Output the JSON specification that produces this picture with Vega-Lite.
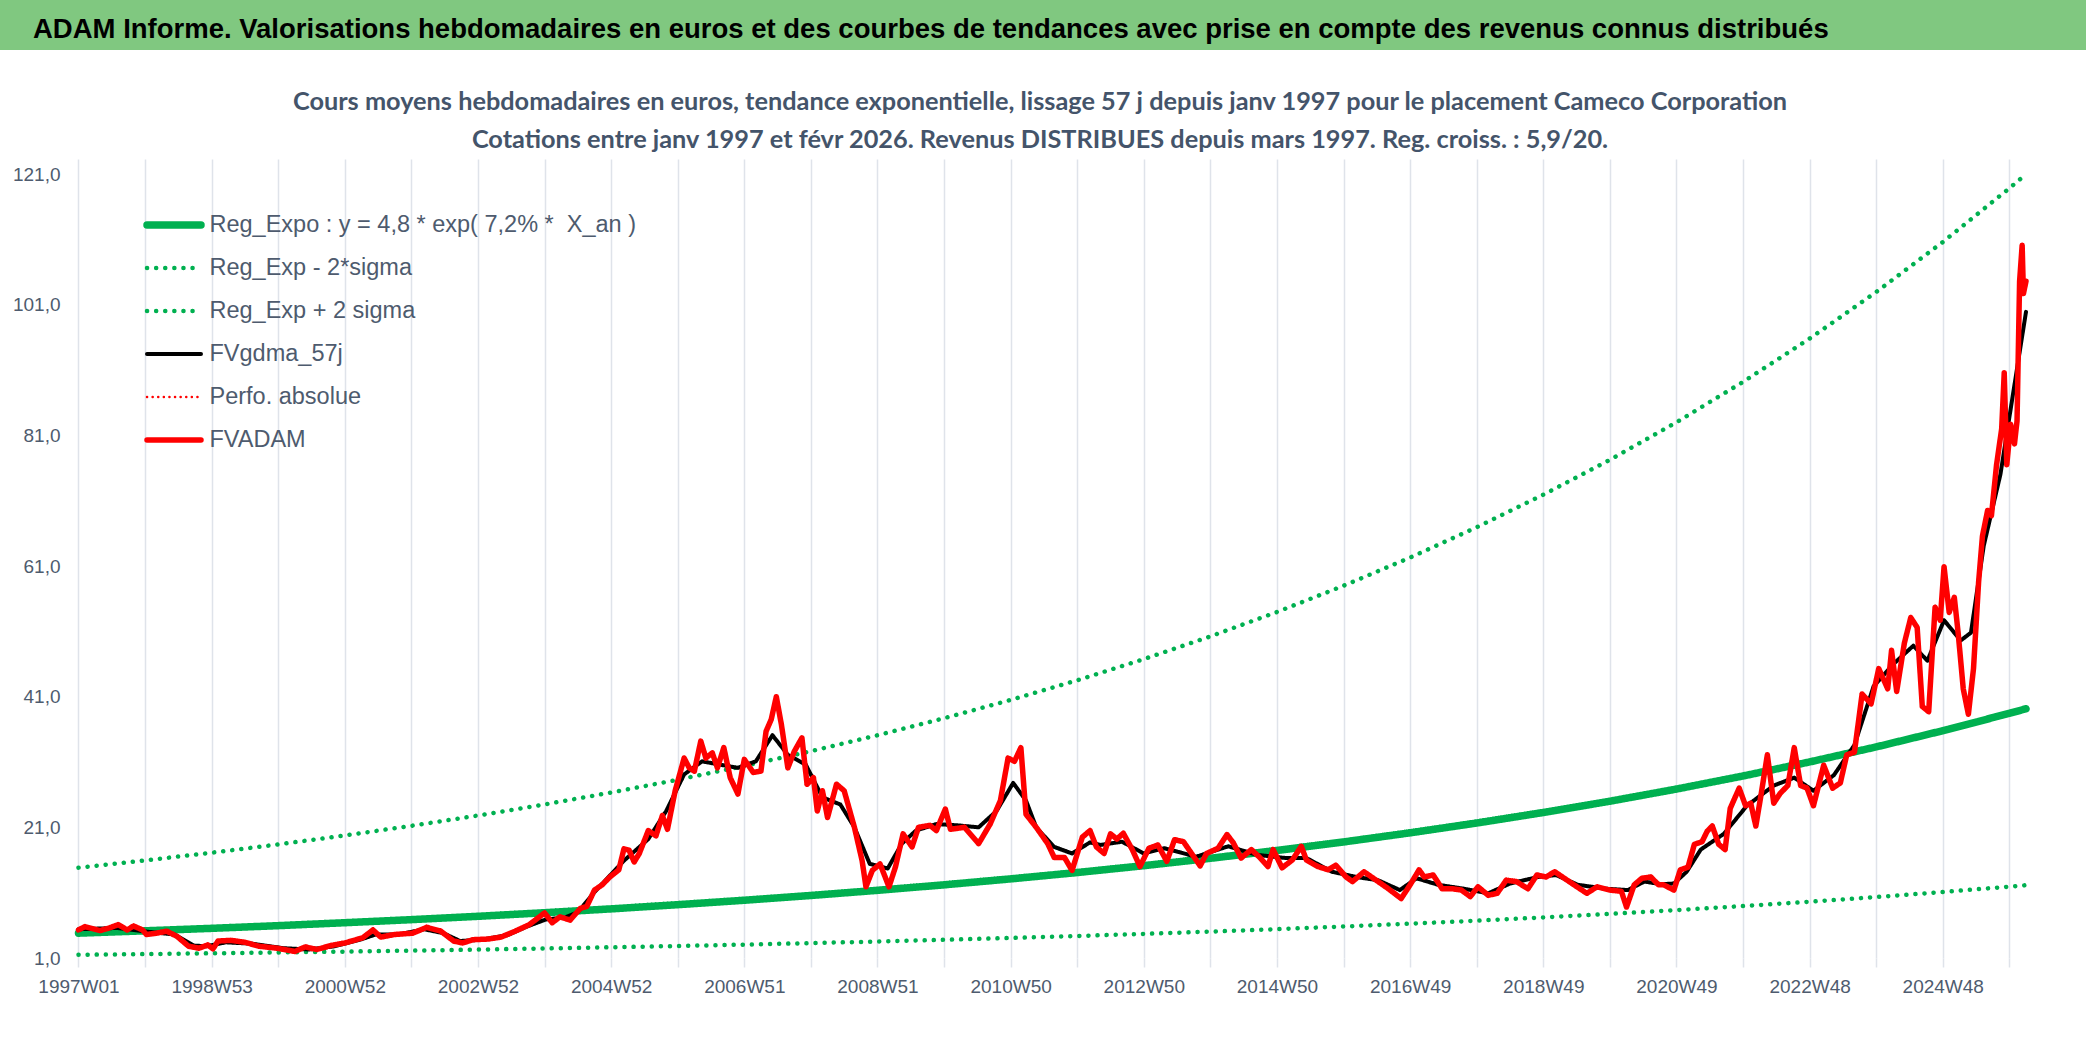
{
  "$schema": "https://vega.github.io/schema/vega-lite/v6.json",
  "padding": 0,
  "background": "white",
  "spacing": 39,
  "config": {"view": {"stroke": null}},
  "datasets": {
    "grid": [{"g": 1}, {"g": 21}, {"g": 41}, {"g": 61}, {"g": 81}, {"g": 101}, {"g": 121}],
    "trend": [
      {"w":0,"Reg_Expo":4.80,"Reg_Exp - 2*sigma":1.49,"Reg_Exp + 2 sigma":14.83},
      {"w":52,"Reg_Expo":5.16,"Reg_Exp - 2*sigma":1.60,"Reg_Exp + 2 sigma":15.94},
      {"w":104,"Reg_Expo":5.54,"Reg_Exp - 2*sigma":1.72,"Reg_Exp + 2 sigma":17.12},
      {"w":156,"Reg_Expo":5.95,"Reg_Exp - 2*sigma":1.85,"Reg_Exp + 2 sigma":18.39},
      {"w":208,"Reg_Expo":6.40,"Reg_Exp - 2*sigma":1.98,"Reg_Exp + 2 sigma":19.76},
      {"w":260,"Reg_Expo":6.87,"Reg_Exp - 2*sigma":2.13,"Reg_Exp + 2 sigma":21.23},
      {"w":312,"Reg_Expo":7.38,"Reg_Exp - 2*sigma":2.29,"Reg_Exp + 2 sigma":22.81},
      {"w":364,"Reg_Expo":7.93,"Reg_Exp - 2*sigma":2.46,"Reg_Exp + 2 sigma":24.51},
      {"w":416,"Reg_Expo":8.52,"Reg_Exp - 2*sigma":2.64,"Reg_Exp + 2 sigma":26.33},
      {"w":468,"Reg_Expo":9.16,"Reg_Exp - 2*sigma":2.84,"Reg_Exp + 2 sigma":28.29},
      {"w":520,"Reg_Expo":9.84,"Reg_Exp - 2*sigma":3.05,"Reg_Exp + 2 sigma":30.40},
      {"w":572,"Reg_Expo":10.57,"Reg_Exp - 2*sigma":3.28,"Reg_Exp + 2 sigma":32.66},
      {"w":624,"Reg_Expo":11.36,"Reg_Exp - 2*sigma":3.52,"Reg_Exp + 2 sigma":35.09},
      {"w":676,"Reg_Expo":12.20,"Reg_Exp - 2*sigma":3.78,"Reg_Exp + 2 sigma":37.70},
      {"w":728,"Reg_Expo":13.11,"Reg_Exp - 2*sigma":4.06,"Reg_Exp + 2 sigma":40.50},
      {"w":780,"Reg_Expo":14.08,"Reg_Exp - 2*sigma":4.37,"Reg_Exp + 2 sigma":43.51},
      {"w":832,"Reg_Expo":15.13,"Reg_Exp - 2*sigma":4.69,"Reg_Exp + 2 sigma":46.75},
      {"w":884,"Reg_Expo":16.26,"Reg_Exp - 2*sigma":5.04,"Reg_Exp + 2 sigma":50.23},
      {"w":936,"Reg_Expo":17.46,"Reg_Exp - 2*sigma":5.41,"Reg_Exp + 2 sigma":53.96},
      {"w":988,"Reg_Expo":18.76,"Reg_Exp - 2*sigma":5.82,"Reg_Exp + 2 sigma":57.98},
      {"w":1040,"Reg_Expo":20.16,"Reg_Exp - 2*sigma":6.25,"Reg_Exp + 2 sigma":62.29},
      {"w":1092,"Reg_Expo":21.66,"Reg_Exp - 2*sigma":6.71,"Reg_Exp + 2 sigma":66.93},
      {"w":1144,"Reg_Expo":23.27,"Reg_Exp - 2*sigma":7.21,"Reg_Exp + 2 sigma":71.91},
      {"w":1196,"Reg_Expo":25.00,"Reg_Exp - 2*sigma":7.75,"Reg_Exp + 2 sigma":77.25},
      {"w":1248,"Reg_Expo":26.86,"Reg_Exp - 2*sigma":8.33,"Reg_Exp + 2 sigma":83.00},
      {"w":1300,"Reg_Expo":28.86,"Reg_Exp - 2*sigma":8.95,"Reg_Exp + 2 sigma":89.18},
      {"w":1352,"Reg_Expo":31.01,"Reg_Exp - 2*sigma":9.61,"Reg_Exp + 2 sigma":95.81},
      {"w":1404,"Reg_Expo":33.31,"Reg_Exp - 2*sigma":10.33,"Reg_Exp + 2 sigma":102.94},
      {"w":1456,"Reg_Expo":35.79,"Reg_Exp - 2*sigma":11.10,"Reg_Exp + 2 sigma":110.59},
      {"w":1508,"Reg_Expo":38.45,"Reg_Exp - 2*sigma":11.92,"Reg_Exp + 2 sigma":118.82},
      {"w":1521,"Reg_Expo":39.15,"Reg_Exp - 2*sigma":12.14,"Reg_Exp + 2 sigma":120.97}
    ],
    "gdma": [
      {"w":0,"FVgdma_57j":5.4},{"w":30,"FVgdma_57j":5.6},{"w":55,"FVgdma_57j":5.0},{"w":75,"FVgdma_57j":4.6},
      {"w":90,"FVgdma_57j":2.9},{"w":100,"FVgdma_57j":2.8},{"w":115,"FVgdma_57j":3.4},{"w":135,"FVgdma_57j":3.2},
      {"w":160,"FVgdma_57j":2.5},{"w":180,"FVgdma_57j":2.3},{"w":200,"FVgdma_57j":2.8},{"w":220,"FVgdma_57j":3.8},
      {"w":232,"FVgdma_57j":4.6},{"w":250,"FVgdma_57j":4.6},{"w":270,"FVgdma_57j":5.4},{"w":285,"FVgdma_57j":4.8},
      {"w":298,"FVgdma_57j":3.6},{"w":315,"FVgdma_57j":3.8},{"w":335,"FVgdma_57j":4.5},{"w":350,"FVgdma_57j":5.8},
      {"w":365,"FVgdma_57j":6.9},{"w":380,"FVgdma_57j":7.2},{"w":390,"FVgdma_57j":8.0},{"w":403,"FVgdma_57j":11.1},
      {"w":426,"FVgdma_57j":15.9},{"w":445,"FVgdma_57j":19.2},{"w":459,"FVgdma_57j":23.5},{"w":473,"FVgdma_57j":29.1},
      {"w":487,"FVgdma_57j":31.1},{"w":501,"FVgdma_57j":30.6},{"w":515,"FVgdma_57j":30.1},{"w":529,"FVgdma_57j":31.1},
      {"w":542,"FVgdma_57j":35.1},{"w":554,"FVgdma_57j":32.1},{"w":568,"FVgdma_57j":30.6},{"w":581,"FVgdma_57j":25.6},
      {"w":595,"FVgdma_57j":24.5},{"w":606,"FVgdma_57j":21.0},{"w":618,"FVgdma_57j":15.4},{"w":632,"FVgdma_57j":14.7},
      {"w":643,"FVgdma_57j":18.5},{"w":654,"FVgdma_57j":20.5},{"w":670,"FVgdma_57j":21.5},{"w":687,"FVgdma_57j":21.3},
      {"w":703,"FVgdma_57j":21.0},{"w":717,"FVgdma_57j":23.5},{"w":730,"FVgdma_57j":27.8},{"w":740,"FVgdma_57j":25.1},
      {"w":748,"FVgdma_57j":21.0},{"w":762,"FVgdma_57j":18.0},{"w":776,"FVgdma_57j":17.0},{"w":790,"FVgdma_57j":18.7},
      {"w":798,"FVgdma_57j":18.3},{"w":815,"FVgdma_57j":18.8},{"w":832,"FVgdma_57j":17.0},{"w":848,"FVgdma_57j":17.8},
      {"w":873,"FVgdma_57j":16.5},{"w":898,"FVgdma_57j":18.1},{"w":920,"FVgdma_57j":16.8},{"w":943,"FVgdma_57j":16.3},
      {"w":959,"FVgdma_57j":16.3},{"w":979,"FVgdma_57j":14.2},{"w":998,"FVgdma_57j":13.4},{"w":1015,"FVgdma_57j":12.9},
      {"w":1032,"FVgdma_57j":11.4},{"w":1045,"FVgdma_57j":13.2},{"w":1062,"FVgdma_57j":12.2},{"w":1082,"FVgdma_57j":11.6},
      {"w":1101,"FVgdma_57j":10.9},{"w":1118,"FVgdma_57j":12.4},{"w":1140,"FVgdma_57j":13.4},{"w":1154,"FVgdma_57j":13.7},
      {"w":1171,"FVgdma_57j":12.2},{"w":1193,"FVgdma_57j":11.6},{"w":1210,"FVgdma_57j":11.4},{"w":1223,"FVgdma_57j":12.7},
      {"w":1236,"FVgdma_57j":12.3},{"w":1246,"FVgdma_57j":12.4},{"w":1256,"FVgdma_57j":14.2},{"w":1267,"FVgdma_57j":17.6},
      {"w":1285,"FVgdma_57j":20.0},{"w":1303,"FVgdma_57j":24.3},{"w":1324,"FVgdma_57j":27.4},{"w":1340,"FVgdma_57j":28.6},
      {"w":1355,"FVgdma_57j":26.6},{"w":1371,"FVgdma_57j":29.0},{"w":1387,"FVgdma_57j":33.6},{"w":1402,"FVgdma_57j":42.6},
      {"w":1418,"FVgdma_57j":46.1},{"w":1433,"FVgdma_57j":48.8},{"w":1444,"FVgdma_57j":46.5},{"w":1457,"FVgdma_57j":52.7},
      {"w":1470,"FVgdma_57j":49.6},{"w":1478,"FVgdma_57j":50.8},{"w":1488,"FVgdma_57j":64.1},{"w":1501,"FVgdma_57j":75.0},
      {"w":1511,"FVgdma_57j":87.5},{"w":1521,"FVgdma_57j":99.9}
    ],
    "adam": [
      {"w":0,"FVADAM":5.3},{"w":5,"FVADAM":5.8},{"w":11,"FVADAM":5.5},{"w":17,"FVADAM":5.2},{"w":24,"FVADAM":5.6},
      {"w":31,"FVADAM":6.1},{"w":38,"FVADAM":5.3},{"w":43,"FVADAM":5.9},{"w":50,"FVADAM":5.3},{"w":53,"FVADAM":4.6},
      {"w":61,"FVADAM":4.8},{"w":69,"FVADAM":5.1},{"w":77,"FVADAM":4.3},{"w":86,"FVADAM":2.8},{"w":94,"FVADAM":2.5},
      {"w":101,"FVADAM":3.0},{"w":105,"FVADAM":2.4},{"w":109,"FVADAM":3.6},{"w":119,"FVADAM":3.7},{"w":130,"FVADAM":3.4},
      {"w":141,"FVADAM":2.8},{"w":155,"FVADAM":2.5},{"w":169,"FVADAM":2.0},{"w":177,"FVADAM":2.7},{"w":186,"FVADAM":2.3},
      {"w":197,"FVADAM":2.9},{"w":208,"FVADAM":3.3},{"w":222,"FVADAM":4.1},{"w":230,"FVADAM":5.3},{"w":236,"FVADAM":4.2},
      {"w":247,"FVADAM":4.6},{"w":261,"FVADAM":4.8},{"w":272,"FVADAM":5.7},{"w":283,"FVADAM":5.1},{"w":293,"FVADAM":3.6},
      {"w":300,"FVADAM":3.3},{"w":308,"FVADAM":3.8},{"w":320,"FVADAM":3.9},{"w":330,"FVADAM":4.2},{"w":341,"FVADAM":5.1},
      {"w":352,"FVADAM":6.1},{"w":364,"FVADAM":7.9},{"w":370,"FVADAM":6.4},{"w":376,"FVADAM":7.3},{"w":384,"FVADAM":6.8},
      {"w":392,"FVADAM":8.6},{"w":397,"FVADAM":8.9},{"w":403,"FVADAM":11.4},{"w":409,"FVADAM":12.2},{"w":415,"FVADAM":13.4},
      {"w":422,"FVADAM":14.5},{"w":426,"FVADAM":17.7},{"w":430,"FVADAM":17.5},{"w":434,"FVADAM":15.7},{"w":438,"FVADAM":17.0},
      {"w":445,"FVADAM":20.5},{"w":451,"FVADAM":19.7},{"w":456,"FVADAM":22.8},{"w":460,"FVADAM":20.7},{"w":466,"FVADAM":26.6},
      {"w":473,"FVADAM":31.6},{"w":477,"FVADAM":30.1},{"w":481,"FVADAM":29.6},{"w":486,"FVADAM":34.2},{"w":490,"FVADAM":31.6},
      {"w":495,"FVADAM":32.4},{"w":499,"FVADAM":30.1},{"w":504,"FVADAM":33.2},{"w":509,"FVADAM":28.6},{"w":515,"FVADAM":26.1},
      {"w":520,"FVADAM":31.4},{"w":527,"FVADAM":29.4},{"w":533,"FVADAM":29.6},{"w":537,"FVADAM":35.7},{"w":541,"FVADAM":37.5},
      {"w":545,"FVADAM":41.0},{"w":549,"FVADAM":36.7},{"w":554,"FVADAM":30.1},{"w":559,"FVADAM":32.6},{"w":565,"FVADAM":34.7},
      {"w":569,"FVADAM":27.6},{"w":574,"FVADAM":28.6},{"w":577,"FVADAM":23.5},{"w":581,"FVADAM":26.6},{"w":585,"FVADAM":22.5},
      {"w":592,"FVADAM":27.6},{"w":598,"FVADAM":26.6},{"w":606,"FVADAM":21.0},{"w":612,"FVADAM":15.9},{"w":615,"FVADAM":11.9},
      {"w":620,"FVADAM":14.4},{"w":626,"FVADAM":15.4},{"w":633,"FVADAM":11.9},{"w":638,"FVADAM":14.9},{"w":644,"FVADAM":20.0},
      {"w":651,"FVADAM":18.0},{"w":656,"FVADAM":21.0},{"w":665,"FVADAM":21.3},{"w":670,"FVADAM":20.5},{"w":677,"FVADAM":23.8},
      {"w":681,"FVADAM":20.7},{"w":692,"FVADAM":21.0},{"w":703,"FVADAM":18.5},{"w":712,"FVADAM":21.5},{"w":720,"FVADAM":25.1},
      {"w":726,"FVADAM":31.6},{"w":731,"FVADAM":31.1},{"w":736,"FVADAM":33.2},{"w":740,"FVADAM":23.0},{"w":748,"FVADAM":21.0},
      {"w":757,"FVADAM":18.5},{"w":762,"FVADAM":16.4},{"w":770,"FVADAM":16.4},{"w":776,"FVADAM":14.4},{"w":784,"FVADAM":19.5},
      {"w":790,"FVADAM":20.5},{"w":795,"FVADAM":18.0},{"w":801,"FVADAM":17.0},{"w":806,"FVADAM":20.0},{"w":811,"FVADAM":19.2},
      {"w":816,"FVADAM":20.1},{"w":823,"FVADAM":17.6},{"w":829,"FVADAM":15.0},{"w":836,"FVADAM":17.8},{"w":843,"FVADAM":18.3},
      {"w":850,"FVADAM":15.8},{"w":856,"FVADAM":19.1},{"w":863,"FVADAM":18.8},{"w":870,"FVADAM":16.8},{"w":876,"FVADAM":15.1},
      {"w":881,"FVADAM":17.0},{"w":890,"FVADAM":17.8},{"w":897,"FVADAM":19.9},{"w":902,"FVADAM":18.6},{"w":908,"FVADAM":16.3},
      {"w":916,"FVADAM":17.6},{"w":922,"FVADAM":16.5},{"w":929,"FVADAM":15.0},{"w":933,"FVADAM":17.6},{"w":940,"FVADAM":14.8},
      {"w":948,"FVADAM":16.0},{"w":955,"FVADAM":18.1},{"w":959,"FVADAM":16.0},{"w":968,"FVADAM":15.0},{"w":976,"FVADAM":14.5},
      {"w":982,"FVADAM":15.2},{"w":990,"FVADAM":13.4},{"w":995,"FVADAM":12.7},{"w":1004,"FVADAM":14.2},{"w":1015,"FVADAM":12.7},
      {"w":1023,"FVADAM":11.6},{"w":1033,"FVADAM":10.1},{"w":1040,"FVADAM":12.2},{"w":1047,"FVADAM":14.5},{"w":1051,"FVADAM":13.4},
      {"w":1058,"FVADAM":13.7},{"w":1065,"FVADAM":11.6},{"w":1073,"FVADAM":11.6},{"w":1080,"FVADAM":11.4},{"w":1087,"FVADAM":10.4},
      {"w":1093,"FVADAM":11.9},{"w":1101,"FVADAM":10.6},{"w":1108,"FVADAM":10.9},{"w":1115,"FVADAM":12.9},{"w":1123,"FVADAM":12.7},
      {"w":1132,"FVADAM":11.6},{"w":1139,"FVADAM":13.7},{"w":1146,"FVADAM":13.4},{"w":1153,"FVADAM":14.2},{"w":1159,"FVADAM":13.4},
      {"w":1168,"FVADAM":12.2},{"w":1178,"FVADAM":10.9},{"w":1186,"FVADAM":11.9},{"w":1196,"FVADAM":11.4},{"w":1205,"FVADAM":11.2},
      {"w":1209,"FVADAM":8.8},{"w":1215,"FVADAM":12.2},{"w":1221,"FVADAM":13.2},{"w":1228,"FVADAM":13.4},{"w":1234,"FVADAM":12.2},
      {"w":1238,"FVADAM":12.2},{"w":1246,"FVADAM":11.4},{"w":1251,"FVADAM":14.5},{"w":1257,"FVADAM":14.9},{"w":1262,"FVADAM":18.4},
      {"w":1268,"FVADAM":18.8},{"w":1272,"FVADAM":20.4},{"w":1276,"FVADAM":21.2},{"w":1281,"FVADAM":18.4},{"w":1286,"FVADAM":17.6},
      {"w":1290,"FVADAM":23.9},{"w":1297,"FVADAM":27.0},{"w":1302,"FVADAM":24.3},{"w":1306,"FVADAM":24.7},{"w":1310,"FVADAM":21.2},
      {"w":1314,"FVADAM":25.9},{"w":1319,"FVADAM":32.1},{"w":1324,"FVADAM":24.7},{"w":1329,"FVADAM":26.2},{"w":1335,"FVADAM":27.4},
      {"w":1340,"FVADAM":33.2},{"w":1345,"FVADAM":27.4},{"w":1350,"FVADAM":27.0},{"w":1355,"FVADAM":24.3},{"w":1363,"FVADAM":30.5},
      {"w":1370,"FVADAM":27.0},{"w":1376,"FVADAM":27.8},{"w":1381,"FVADAM":32.1},{"w":1387,"FVADAM":32.5},{"w":1393,"FVADAM":41.4},
      {"w":1400,"FVADAM":39.9},{"w":1406,"FVADAM":45.3},{"w":1413,"FVADAM":42.2},{"w":1416,"FVADAM":48.1},{"w":1420,"FVADAM":41.8},
      {"w":1426,"FVADAM":49.2},{"w":1431,"FVADAM":53.1},{"w":1436,"FVADAM":51.6},{"w":1440,"FVADAM":39.5},{"w":1445,"FVADAM":38.7},
      {"w":1450,"FVADAM":54.7},{"w":1454,"FVADAM":52.7},{"w":1457,"FVADAM":60.9},{"w":1461,"FVADAM":53.9},{"w":1465,"FVADAM":56.2},
      {"w":1468,"FVADAM":50.8},{"w":1472,"FVADAM":42.2},{"w":1476,"FVADAM":38.3},{"w":1480,"FVADAM":45.3},{"w":1484,"FVADAM":58.6},
      {"w":1487,"FVADAM":65.6},{"w":1491,"FVADAM":69.5},{"w":1494,"FVADAM":68.7},{"w":1498,"FVADAM":76.5},{"w":1502,"FVADAM":82.0},
      {"w":1504,"FVADAM":90.6},{"w":1506,"FVADAM":76.5},{"w":1509,"FVADAM":82.7},{"w":1512,"FVADAM":79.7},{"w":1514,"FVADAM":83.2},
      {"w":1516,"FVADAM":104.6},{"w":1518,"FVADAM":110.1},{"w":1519,"FVADAM":102.7},{"w":1521,"FVADAM":104.6}
    ]
  },
  "vconcat": [
    {
      "width": 2086,
      "height": 50,
      "view": {"fill": "#80c880", "stroke": null},
      "data": {"values": [{"k": 1}]},
      "mark": {"type": "rect", "color": "#80c880"},
      "title": {
        "text": "ADAM Informe. Valorisations hebdomadaires en euros et des courbes de tendances avec prise en compte des revenus connus distribués",
        "orient": "top",
        "anchor": "start",
        "baseline": "alphabetic",
        "offset": -65,
        "dx": 33,
        "font": "Liberation Sans",
        "fontSize": 27.5,
        "fontWeight": "bold",
        "color": "#000000"
      }
    },
    {
      "width": 2026,
      "height": 799,
      "title": {
        "text": [
          "Cours moyens hebdomadaires en euros, tendance exponentielle, lissage 57 j depuis janv 1997 pour le placement Cameco Corporation",
          "Cotations entre janv 1997 et févr 2026. Revenus DISTRIBUES depuis mars 1997. Reg. croiss. : 5,9/20."
        ],
        "anchor": "middle",
        "baseline": "bottom",
        "offset": -19,
        "dx": 27,
        "lineHeight": 38,
        "font": "Lato",
        "fontSize": 25.3,
        "fontWeight": "bold",
        "color": "#44546a"
      },
      "encoding": {
        "x": {
          "field": "w",
          "type": "quantitative",
          "scale": {"domain": [-61.3, 1521], "nice": false, "zero": false},
          "axis": {
            "title": null,
            "values": [0,52,104,156,208,260,312,364,416,468,520,572,624,676,728,780,832,884,936,988,1040,1092,1144,1196,1248,1300,1352,1404,1456,1508],
            "labelExpr": "datum.value % 104 === 0 ? ['1997W01','1998W53','2000W52','2002W52','2004W52','2006W51','2008W51','2010W50','2012W50','2014W50','2016W49','2018W49','2020W49','2022W48','2024W48'][datum.value / 104] : ''",
            "grid": true,
            "gridColor": "#dfe3ea",
            "gridWidth": 1.5,
            "domain": false,
            "ticks": true,
            "tickColor": "#dfe3ea",
            "tickWidth": 1.5,
            "tickSize": 9,
            "labelFont": "Liberation Sans",
            "labelFontSize": 19,
            "labelColor": "#4e5b6e",
            "labelPadding": 10,
            "labelOverlap": false,
            "labelFlush": false
          }
        },
        "y": {
          "field": "v",
          "type": "quantitative",
          "scale": {"domain": [1, 123.3], "nice": false, "zero": false},
          "axis": {
            "title": null,
            "values": [1, 21, 41, 61, 81, 101, 121],
            "labelExpr": "replace(format(datum.value, '.1f'), '.', ',')",
            "grid": false,
            "domain": false,
            "ticks": false,
            "tickSize": 0,
            "labelPadding": -60,
            "labelAlign": "right",
            "labelFont": "Liberation Sans",
            "labelFontSize": 19,
            "labelColor": "#4e5b6e"
          }
        },
        "color": {
          "field": "s",
          "type": "nominal",
          "scale": {
            "domain": ["Reg_Expo", "Reg_Exp - 2*sigma", "Reg_Exp + 2 sigma", "FVgdma_57j", "Perfo. absolue", "FVADAM"],
            "range": ["#00b050", "#00b050", "#00b050", "#000000", "#ff0000", "#ff0000"]
          },
          "legend": {
            "title": null,
            "orient": "none",
            "legendX": 143,
            "legendY": 203.5,
            "padding": 0,
            "clipHeight": 43,
            "rowPadding": 0,
            "symbolType": "stroke",
            "symbolSize": 2916,
            "labelFont": "Liberation Sans",
            "labelFontSize": 23.5,
            "labelColor": "#4e5b6e",
            "labelOffset": 4.5,
            "labelLimit": 700,
            "labelExpr": "datum.label === 'Reg_Expo' ? 'Reg_Expo : y = 4,8 * exp( 7,2% *\u00a0 X_an )' : datum.label",
            "encode": {"symbols": {"update": {"strokeCap": {"value": "round"}}}}
          }
        },
        "strokeDash": {
          "field": "s",
          "type": "nominal",
          "scale": {
            "domain": ["Reg_Expo", "Reg_Exp - 2*sigma", "Reg_Exp + 2 sigma", "FVgdma_57j", "Perfo. absolue", "FVADAM"],
            "range": [[1, 0], [0.1, 9], [0.1, 9], [1, 0], [0.1, 5.5], [1, 0]]
          }
        },
        "strokeWidth": {
          "field": "s",
          "type": "nominal",
          "scale": {
            "type": "ordinal",
            "domain": ["Reg_Expo", "Reg_Exp - 2*sigma", "Reg_Exp + 2 sigma", "FVgdma_57j", "Perfo. absolue", "FVADAM"],
            "range": [7.5, 4.5, 4.5, 4, 2.5, 5.5]
          }
        }
      },
      "layer": [
        {
          "data": {"name": "grid"},
          "mark": {"type": "rule"},
          "encoding": {
            "x": {"datum": 0},
            "x2": {"datum": 1521},
            "y": {"field": "g", "type": "quantitative"},
            "color": {"value": "#dfe3ea"},
            "strokeDash": {"value": [1, 0]},
            "strokeWidth": {"value": 1.5}
          }
        },
        {
          "data": {"name": "trend"},
          "transform": [{"fold": ["Reg_Exp - 2*sigma", "Reg_Exp + 2 sigma", "Reg_Expo"], "as": ["s", "v"]}],
          "mark": {"type": "line", "strokeCap": "round", "strokeJoin": "round"}
        },
        {
          "data": {"name": "gdma"},
          "transform": [{"fold": ["FVgdma_57j"], "as": ["s", "v"]}],
          "mark": {"type": "line", "strokeCap": "round", "strokeJoin": "round"}
        },
        {
          "data": {"name": "adam"},
          "transform": [{"fold": ["FVADAM"], "as": ["s", "v"]}],
          "mark": {"type": "line", "strokeCap": "round", "strokeJoin": "round"}
        }
      ]
    }
  ]
}
